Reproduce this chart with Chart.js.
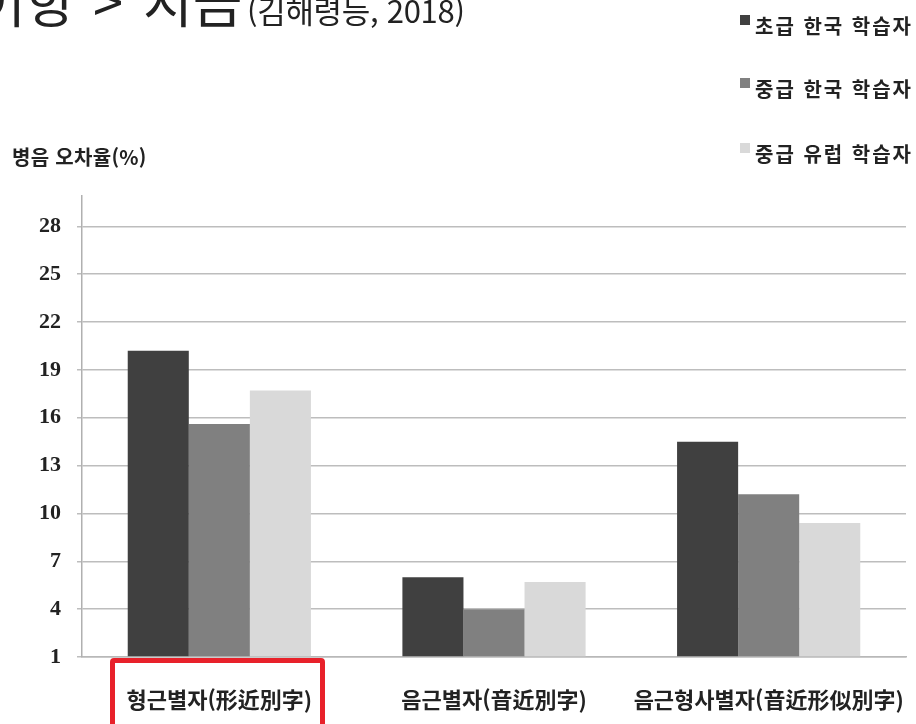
<!DOCTYPE html>
<html lang="ko">
<head>
<meta charset="utf-8">
<script src="https://cdn.jsdelivr.net/npm/chart.js@4.4.1/dist/chart.umd.min.js"></script>
<style>
  body { margin: 0; background: #fff; }
  #wrap { position: relative; width: 916px; height: 724px; overflow: hidden; }
  #myChart { position: absolute; left: 0; top: 0; }
  .txt { position: absolute; font-family: "Noto Sans CJK KR", sans-serif; color: #222; white-space: pre; }
  .big { font-size: 54px; line-height: 54px; top: -27px; }
  .small { font-size: 31px; line-height: 31px; top: -6px; letter-spacing: -0.3px; }
  #ytitle { left: 12px; top: 145px; font-size: 20px; font-weight: bold; line-height: 24px; letter-spacing: 0.3px; }
  #legend .item { position: absolute; left: 740px; font-size: 20px; font-weight: bold; line-height: 24px; letter-spacing: 2px; }
  #legend .sw { position: absolute; left: 0; top: 1px; width: 10px; height: 10px; }
  #legend .lbl { position: absolute; left: 15px; top: 0; }
  #mark { position: absolute; left: 110px; top: 658px; width: 205px; height: 90px; border: 5px solid #e8212a; border-radius: 4px; }
</style>
</head>
<body>
<div id="wrap">
  <canvas id="myChart" width="916" height="724"></canvas>
  <div class="txt big" style="left:-24px">어항</div>
  <div class="txt big" style="left:93px">&gt;</div>
  <div class="txt big" style="left:143px">지금</div>
  <div class="txt small" style="left:247px">(김해령등, 2018)</div>
  <div class="txt" id="ytitle">병음 오차율(%)</div>
  <div id="legend"></div>
  <div id="mark"></div>
</div>
<script>
// categories / series
const categories = ['형근별자(形近別字)', '음근별자(音近別字)', '음근형사별자(音近形似別字)'];
const seriesNames = ['초급 한국 학습자', '중급 한국 학습자', '중급 유럽 학습자'];
const beginnerKorean = [20.2, 6.0, 14.5];
const intermediateKorean = [15.6, 4.0, 11.2];
const intermediateEuropean = [17.7, 5.7, 9.4];
const yTicks = [1, 4, 7, 10, 13, 16, 19, 22, 25, 28];

const colors = ['#404040', '#808080', '#d9d9d9'];
const seriesValues = [beginnerKorean, intermediateKorean, intermediateEuropean];

// legend (vertical, top right)
const legendTops = [14, 77, 142];
const legend = document.getElementById('legend');
seriesNames.forEach(function (name, i) {
    const item = document.createElement('div');
    item.className = 'txt item';
    item.style.top = legendTops[i] + 'px';
    item.innerHTML = '<span class="sw" style="background:' + colors[i] + '"></span><span class="lbl">' + name + '</span>';
    legend.appendChild(item);
});

const ctx = document.getElementById('myChart');

var myChart = new Chart(ctx, {
    type: 'bar',
    data: {
        labels: categories,
        datasets: seriesValues.map(function (vals, i) {
            return {
                label: seriesNames[i],
                data: vals,
                backgroundColor: colors[i],
                borderWidth: 0,
                base: 1,
                categoryPercentage: 0.667,
                barPercentage: 1.0
            };
        })
    },
    options: {
        responsive: false,
        animation: false,
        layout: {
            padding: { left: 0, right: 10, top: 196, bottom: 0 }
        },
        plugins: {
            legend: { display: false },
            tooltip: { enabled: false }
        },
        scales: {
            x: {
                afterFit: function (scale) {
                    scale.height = 67;
                    scale.paddingLeft = 0;
                    scale.paddingRight = 0;
                },
                grid: { display: false, drawTicks: false },
                border: { display: true, color: '#b8b8b8', width: 1.5 },
                ticks: {
                    padding: 29,
                    color: '#222',
                    font: { family: '"Noto Sans CJK KR"', size: 22, weight: 'bold' },
                    maxRotation: 0,
                    autoSkip: false
                }
            },
            y: {
                min: 1,
                max: 29.9,
                afterBuildTicks: function (scale) {
                    scale.ticks = yTicks.map(v => ({ value: v }));
                },
                afterFit: function (scale) {
                    scale.width = 82;
                },
                grid: { color: '#bdbdbd', lineWidth: 1.5, tickLength: 5 },
                border: { display: true, color: '#b0b0b0', width: 1.5 },
                ticks: {
                    padding: 16,
                    color: '#222',
                    font: { family: '"Liberation Serif"', size: 22, weight: 'bold' }
                }
            }
        }
    }
});
</script>
</body>
</html>
